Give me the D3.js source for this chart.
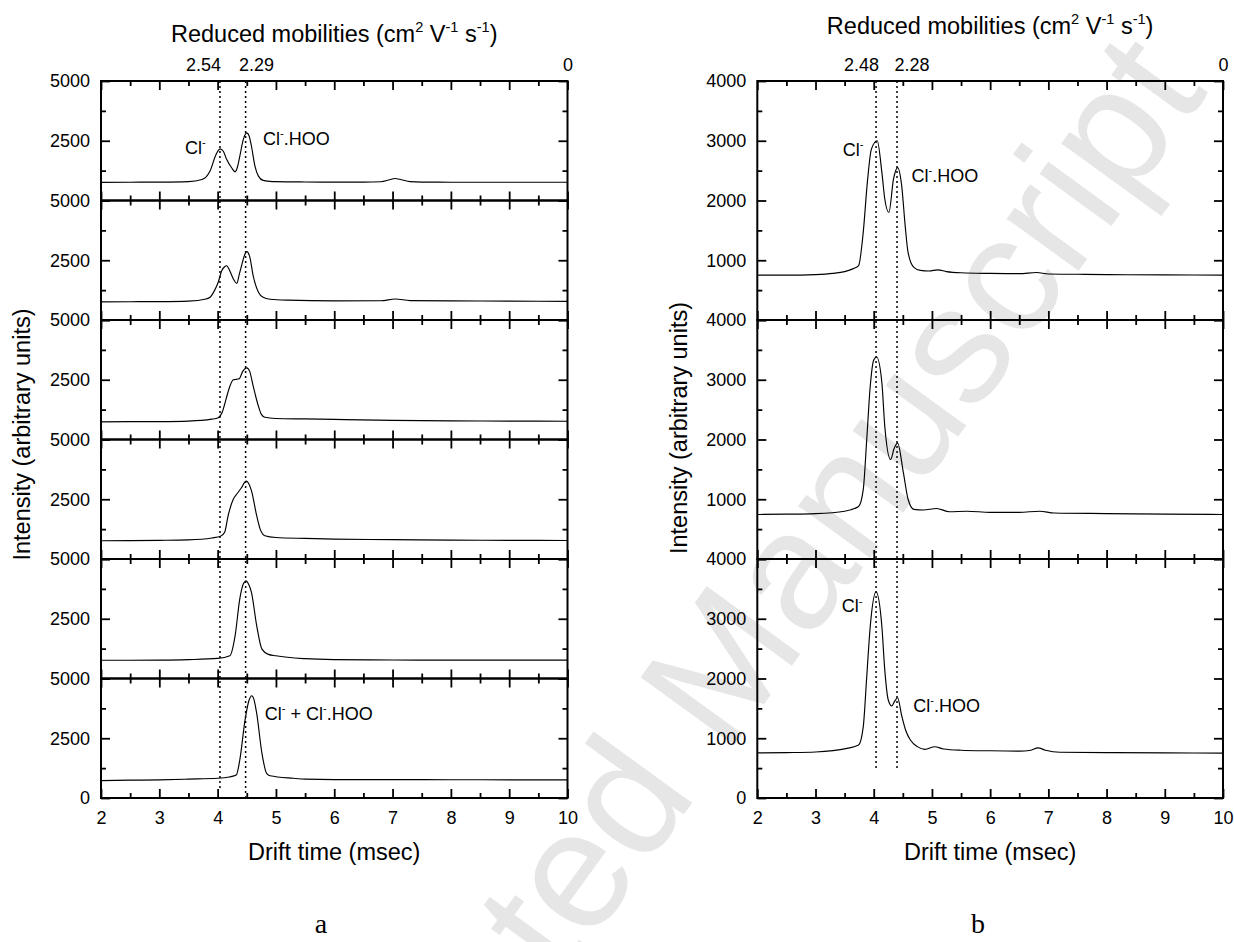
<!DOCTYPE html>
<html>
<head>
<meta charset="utf-8">
<script src="https://cdn.jsdelivr.net/npm/d3@7"></script>
<style>
  body { margin: 0; background: #fff; }
  text { font-family: "Liberation Sans", Arial, sans-serif; fill: #000; }
</style>
</head>
<body>
<svg id="chart" width="1234" height="942"></svg>
<script>
// ---- data ----
const timeTicks = [2, 3, 4, 5, 6, 7, 8, 9, 10];
const timeMinor = [2.5, 3.5, 4.5, 5.5, 6.5, 7.5, 8.5, 9.5];

const intensityTicksA = [0, 2500, 5000];
const intensityMinorA = [1250, 3750];
const intensityTicksB = [0, 1000, 2000, 3000, 4000];
const intensityMinorB = [500, 1500, 2500, 3500];

// reduced mobility labels on the top axis (placed at drift time)
const mobilityA = ["2.54", "2.29", "0"];
const mobilityAtA = [3.75, 4.66, 10];
const mobilityB = ["2.48", "2.28", "0"];
const mobilityAtB = [3.78, 4.65, 10];

// dotted guide lines: drift time, and the intensity where they stop in the last trace
const peakTimesA = [4.04, 4.48];
const peakEndA = [400, 50];
const peakTimesB = [4.04, 4.40];
const peakEndB = [460, 460];

// spectra [drift time (msec), intensity]
const traceA1 = [[2.0,760],[2.5,765],[3.0,770],[3.5,790],[3.73,880],[3.8,980],[3.87,1230],[3.96,1850],[4.0,2050],[4.04,2160],[4.1,2050],[4.15,1745],[4.24,1370],[4.3,1200],[4.34,1400],[4.38,1850],[4.44,2550],[4.5,2830],[4.54,2700],[4.58,2270],[4.64,1440],[4.7,1020],[4.78,840],[4.9,800],[5.0,790],[5.5,775],[6.0,770],[6.5,770],[6.8,785],[6.95,870],[7.04,920],[7.15,870],[7.3,790],[7.5,770],[8.0,765],[9.0,765],[10.0,765]];
const traceA2 = [[2.0,760],[2.5,765],[3.0,770],[3.5,790],[3.8,880],[3.87,950],[3.95,1250],[4.01,1580],[4.07,2060],[4.12,2230],[4.155,2270],[4.21,2050],[4.27,1715],[4.33,1535],[4.37,1900],[4.41,2270],[4.46,2700],[4.5,2860],[4.55,2650],[4.61,1850],[4.7,1160],[4.78,950],[4.9,870],[5.2,830],[6.0,800],[6.8,805],[7.05,880],[7.3,810],[8.0,800],[9.0,790],[10.0,780]];
const traceA3 = [[2.0,740],[2.5,745],[3.0,750],[3.5,770],[3.9,850],[4.01,910],[4.08,1150],[4.14,1650],[4.21,2230],[4.27,2500],[4.3,2510],[4.37,2540],[4.43,2850],[4.5,3000],[4.55,2850],[4.61,2230],[4.7,1390],[4.75,1050],[4.81,930],[5.0,880],[5.5,860],[6.0,840],[7.0,800],[8.0,780],[9.0,770],[10.0,765]];
const traceA4 = [[2.0,765],[2.5,770],[3.0,780],[3.5,800],[3.9,880],[4.05,950],[4.12,1120],[4.18,1810],[4.27,2510],[4.33,2720],[4.4,2950],[4.49,3260],[4.58,2860],[4.67,1810],[4.73,1250],[4.81,975],[5.0,900],[5.5,860],[6.0,830],[7.0,810],[8.0,790],[9.0,780],[10.0,775]];
const traceA5 = [[2.0,765],[2.5,765],[3.0,770],[3.5,790],[4.0,840],[4.21,950],[4.3,1790],[4.38,3330],[4.44,3950],[4.49,4090],[4.53,3950],[4.58,3600],[4.67,2210],[4.76,1230],[4.87,1010],[5.0,950],[5.5,830],[6.0,790],[7.0,775],[8.0,770],[9.0,770],[10.0,770]];
const traceA6 = [[2.0,725],[2.5,745],[3.0,760],[3.5,790],[4.0,825],[4.2,880],[4.32,960],[4.38,1590],[4.47,3260],[4.54,4100],[4.585,4280],[4.62,4150],[4.67,3540],[4.76,1870],[4.84,1030],[4.9,930],[5.3,825],[5.5,790],[6.0,770],[7.0,770],[8.0,765],[9.0,760],[10.0,760]];

const traceB1 = [[2.0,750],[2.5,750],[3.0,760],[3.3,780],[3.5,810],[3.65,860],[3.74,910],[3.82,1470],[3.89,2300],[3.96,2860],[4.06,3000],[4.14,2470],[4.19,2025],[4.26,1800],[4.34,2360],[4.41,2550],[4.48,2250],[4.54,1580],[4.59,1130],[4.69,880],[4.8,830],[4.95,820],[5.1,840],[5.25,810],[5.5,790],[6.0,780],[6.5,775],[6.8,795],[7.0,770],[7.5,765],[8.0,760],[9.0,755],[10.0,750]];
const traceB2 = [[2.0,745],[2.5,750],[3.0,760],[3.5,800],[3.74,880],[3.82,1160],[3.88,2000],[3.94,2890],[4.0,3330],[4.05,3380],[4.14,2950],[4.19,2220],[4.29,1665],[4.35,1850],[4.41,1940],[4.51,1440],[4.59,1000],[4.69,830],[4.85,820],[5.08,845],[5.3,790],[5.6,800],[6.0,780],[6.5,780],[6.85,800],[7.1,770],[8.0,760],[9.0,750],[10.0,745]];
const traceB3 = [[2.0,755],[2.5,760],[3.0,770],[3.54,830],[3.74,886],[3.82,1190],[3.88,2030],[3.94,2870],[4.04,3450],[4.14,2870],[4.19,2140],[4.25,1640],[4.31,1540],[4.36,1620],[4.41,1677],[4.48,1380],[4.55,1130],[4.63,970],[4.75,860],[4.88,814],[5.05,858],[5.2,820],[5.5,800],[6.0,790],[6.5,785],[6.7,800],[6.82,840],[6.95,800],[7.2,765],[8.0,760],[9.0,755],[10.0,750]];

// peak annotations: trace index, drift time, intensity, text (^{..} = superscript)
const annotA = [
  { panel: 0, t: 3.44, v: 1966, text: "Cl^{-}" },
  { panel: 0, t: 4.78, v: 2342, text: "Cl^{-}.HOO" },
  { panel: 5, t: 4.81, v: 3262, text: "Cl^{-} + Cl^{-}.HOO" }
];
const annotB = [
  { panel: 0, t: 3.47, v: 2750, text: "Cl^{-}" },
  { panel: 0, t: 4.65, v: 2315, text: "Cl^{-}.HOO" },
  { panel: 2, t: 3.45, v: 3108, text: "Cl^{-}" },
  { panel: 2, t: 4.68, v: 1444, text: "Cl^{-}.HOO" }
];

const topTitle = "Reduced mobilities (cm^{2} V^{-1} s^{-1})";
const yTitle = "Intensity (arbitrary units)";
const xTitle = "Drift time (msec)";

// ---- drawing ----
const svg = d3.select("#chart");

// watermark behind everything
svg.append("text")
  .attr("transform", "translate(712,700) rotate(-54)")
  .attr("text-anchor", "middle")
  .attr("dominant-baseline", "middle")
  .style("font-size", "168px")
  .style("fill", "#e6e6e6")
  .text("Accepted Manuscript");

// text with ^{...} superscripts
function richText(sel, str, size) {
  const parts = str.split(/(\^\{[^}]*\})/).filter(s => s.length);
  let raised = false;
  parts.forEach(p => {
    if (p.startsWith("^{")) {
      sel.append("tspan")
        .attr("dy", raised ? 0 : -0.42 * size)
        .style("font-size", (size * 0.62) + "px")
        .text(p.slice(2, -1));
      raised = true;
    } else {
      const t = sel.append("tspan").style("font-size", size + "px").text(p);
      if (raised) { t.attr("dy", 0.42 * size); raised = false; }
    }
  });
}

function drawFigure(o) {
  const x = d3.scaleLinear().domain([2, 10]).range([o.left, o.right]);
  const n = o.traces.length;
  const h = (o.bottom - o.top) / n;
  const g = svg.append("g");
  let lastY;

  o.traces.forEach((tr, i) => {
    const y0 = o.top + i * h;
    const y = d3.scaleLinear().domain([0, o.yMax]).range([y0 + h, y0]);
    const last = i === n - 1;
    lastY = y;

    // ticks on all four sides, pointing inward
    const addAxis = (axis, tx, ty) => {
      const a = g.append("g")
        .attr("transform", `translate(${tx},${ty})`)
        .call(axis);
      a.select(".domain").remove();
      a.selectAll("line").attr("stroke", "#000").attr("stroke-width", 1.8);
      a.selectAll("text")
        .style("font-family", "'Liberation Sans', Arial, sans-serif")
        .style("font-size", "18px")
        .attr("fill", "#000");
      return a;
    };

    addAxis(d3.axisBottom(x).tickValues(timeTicks).tickSize(-9).tickPadding(13)
      .tickFormat(last ? d3.format("d") : ""), 0, y0 + h);
    addAxis(d3.axisBottom(x).tickValues(timeMinor).tickSize(-5).tickFormat(""), 0, y0 + h);
    addAxis(d3.axisTop(x).tickValues(timeTicks).tickSize(-9).tickFormat(""), 0, y0);
    addAxis(d3.axisTop(x).tickValues(timeMinor).tickSize(-5).tickFormat(""), 0, y0);

    addAxis(d3.axisLeft(y).tickValues(o.yTicks).tickSize(-9).tickPadding(11)
      .tickFormat(d => (d === 0 && !last) ? "" : d), o.left, 0);
    addAxis(d3.axisLeft(y).tickValues(o.yMinor).tickSize(-5).tickFormat(""), o.left, 0);
    addAxis(d3.axisRight(y).tickValues(o.yTicks).tickSize(-9).tickFormat(""), o.right, 0);
    addAxis(d3.axisRight(y).tickValues(o.yMinor).tickSize(-5).tickFormat(""), o.right, 0);

    // spectrum
    g.append("path")
      .datum(tr)
      .attr("fill", "none")
      .attr("stroke", "#000")
      .attr("stroke-width", 1.15)
      .attr("d", d3.line().x(d => x(d[0])).y(d => y(d[1])).curve(d3.curveMonotoneX));

    // frame
    g.append("rect")
      .attr("x", o.left).attr("y", y0)
      .attr("width", o.right - o.left).attr("height", h)
      .attr("fill", "none").attr("stroke", "#000").attr("stroke-width", 2);

    // annotations
    o.annot.filter(a => a.panel === i).forEach(a => {
      const t = g.append("text").attr("x", x(a.t)).attr("y", y(a.v));
      richText(t, a.text, 18);
    });
  });

  // dotted guide lines
  o.peaks.forEach((p, k) => {
    g.append("line")
      .attr("x1", x(p)).attr("x2", x(p))
      .attr("y1", o.top).attr("y2", lastY(o.peakEnd[k]))
      .attr("stroke", "#000").attr("stroke-width", 1.5)
      .attr("stroke-dasharray", "2,3");
  });

  // reduced mobility labels on top
  const top = g.append("g")
    .attr("transform", `translate(0,${o.top})`)
    .call(d3.axisTop(x).tickValues(o.mobAt).tickSize(0).tickPadding(10)
      .tickFormat((d, k) => o.mobLabels[k]));
  top.select(".domain").remove();
  top.selectAll("text")
    .style("font-family", "'Liberation Sans', Arial, sans-serif")
    .style("font-size", "18px").attr("fill", "#000");

  const cx = (o.left + o.right) / 2;
  richText(g.append("text").attr("x", cx).attr("y", o.titleY).attr("text-anchor", "middle"), topTitle, 23.5);

  g.append("text")
    .attr("x", cx).attr("y", 860)
    .attr("text-anchor", "middle")
    .style("font-size", "23.5px")
    .text(xTitle);

  g.append("text")
    .attr("transform", `translate(${o.yTitleX},${o.yTitleY}) rotate(-90)`)
    .attr("text-anchor", "middle")
    .style("font-size", "23.5px")
    .text(yTitle);

  g.append("text")
    .attr("x", o.letterX).attr("y", 933)
    .attr("text-anchor", "middle")
    .style("font-family", "'Liberation Serif', 'Times New Roman', serif")
    .style("font-size", "28px")
    .text(o.letter);
}

drawFigure({
  left: 101, right: 567.5, top: 81, bottom: 798,
  traces: [traceA1, traceA2, traceA3, traceA4, traceA5, traceA6],
  yMax: 5000, yTicks: intensityTicksA, yMinor: intensityMinorA,
  annot: annotA, peaks: peakTimesA, peakEnd: peakEndA,
  mobAt: mobilityAtA, mobLabels: mobilityA,
  titleY: 41.5, yTitleX: 30, yTitleY: 434.5,
  letter: "a", letterX: 321
});

drawFigure({
  left: 757.3, right: 1223, top: 81, bottom: 798,
  traces: [traceB1, traceB2, traceB3],
  yMax: 4000, yTicks: intensityTicksB, yMinor: intensityMinorB,
  annot: annotB, peaks: peakTimesB, peakEnd: peakEndB,
  mobAt: mobilityAtB, mobLabels: mobilityB,
  titleY: 33.5, yTitleX: 687, yTitleY: 428,
  letter: "b", letterX: 978
});
</script>
</body>
</html>
